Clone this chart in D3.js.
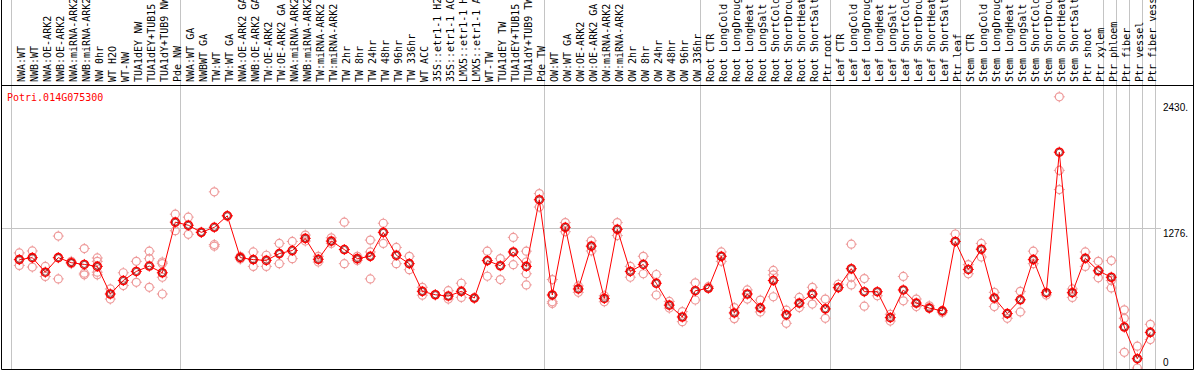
<!DOCTYPE html>
<html>
<head>
<meta charset="utf-8">
<script src="https://cdn.jsdelivr.net/npm/d3@7"></script>
<style>
  body { margin: 0; background: #fff; }
  svg { display: block; font-family: 'DejaVu Sans Mono', monospace; font-size: 10px; }
</style>
</head>
<body>
<svg id="chart" width="1194" height="370"></svg>
<script>
const geneName = 'Potri.014G075300'

const labels = [
  'NWA:WT', 'NWB:WT', 'NWA:OE-ARK2', 'NWB:OE-ARK2', 'NWA:miRNA-ARK2', 'NWB:miRNA-ARK2',
  'NW 0hr', 'WT H2O', 'WT-NW', 'TUA1dEY NW', 'TUA1dEY+TUB15', 'TUA1dY+TUB9 NW', 'Pde NW',
  'NWA:WT GA', 'NWBWT GA', 'TW:WT', 'TW:WT GA', 'NWA:OE-ARK2 GA', 'NWB:OE-ARK2 GA',
  'TW:OE-ARK2', 'TW:OE-ARK2 GA', 'NWA:miRNA-ARK2', 'NWB:miRNA-ARK2', 'TW:miRNA-ARK2',
  'TW:miRNA-ARK2', 'TW 2hr', 'TW 8hr', 'TW 24hr', 'TW 48hr', 'TW 96hr', 'TW 336hr',
  'WT ACC', '35S::etr1-1 H2', '35S::etr1-1 AC', 'LMX5::etr1-1 H', 'LMX5::etr1-1 A',
  'WT-TW', 'TUA1dEY TW', 'TUA1dEY+TUB15', 'TUA1dY+TUB9 TW', 'Pde TW',
  'OW:WT', 'OW:WT GA', 'OW:OE-ARK2', 'OW:OE-ARK2 GA', 'OW:miRNA-ARK2', 'OW:miRNA-ARK2',
  'OW 2hr', 'OW 8hr', 'OW 24hr', 'OW 48hr', 'OW 96hr', 'OW 336hr',
  'Root CTR', 'Root LongCold', 'Root LongDroug', 'Root LongHeat', 'Root LongSalt',
  'Root ShortCold', 'Root ShortDrou', 'Root ShortHeat', 'Root ShortSalt', 'Ptr root',
  'Leaf CTR', 'Leaf LongCold', 'Leaf LongDroug', 'Leaf LongHeat', 'Leaf LongSalt',
  'Leaf ShortCold', 'Leaf ShortDrou', 'Leaf ShortHeat', 'Leaf ShortSalt', 'Ptr leaf',
  'Stem CTR', 'Stem LongCold', 'Stem LongDroug', 'Stem LongHeat', 'Stem LongSalt',
  'Stem ShortCold', 'Stem ShortDrou', 'Stem ShortHeat', 'Stem ShortSalt', 'Ptr shoot',
  'Ptr xylem', 'Ptr phloem', 'Ptr fiber', 'Ptr vessel', 'Ptr fiber vess'
]

const means = [
  990, 1008, 875, 1008, 962, 946, 928, 676, 799, 882,
  931, 870, 1332, 1304, 1239, 1285, 1390, 1008, 990, 983,
  1045, 1073, 1184, 993, 1159, 1082, 999, 1020, 1239, 1030,
  953, 700, 669, 657, 700, 639, 981, 934, 1060, 928,
  1537, 667, 1285, 722, 1113, 635, 1267, 882, 946, 774,
  574, 466, 706, 728, 1020, 503, 676, 549, 799, 485,
  593, 676, 540, 734, 907, 697, 697, 460, 713, 593,
  547, 522, 1156, 900, 1085, 639, 497, 623, 990, 688,
  1971, 688, 1002, 888, 829, 374, 85, 325
]

const replicates = [
  [1051, 937], [1069, 922], [928, 836], [1205, 814], [974, 953],
  [1091, 866, 851], [1005, 974, 875, 851], [722, 630], [870, 753], [974, 783],
  [1067, 999, 737], [968, 953, 829, 676], [1405, 1254], [1378, 1221], [1239],
  [1609, 1128, 1113], [1390], [1020, 995], [1060, 928], [1030, 928],
  [1138, 953], [1156, 999], [1214, 1160], [1020, 968], [1189, 1138],
  [1332, 953], [1020, 983], [1168, 1060, 814], [1322, 1138], [1101, 953],
  [1020, 898], [737, 665], [669], [706, 630], [774, 645],
  [639], [1067, 838], [999, 808], [1193, 944], [1067, 968, 861, 759],
  [1593, 1470], [808, 605, 590], [1328, 1245], [691, 750], [1162, 1069],
  [605, 660], [1328, 1210], [928, 829], [1020, 861], [854, 667],
  [608, 547], [515, 423], [778, 621], [743], [1060, 974],
  [552, 451], [713, 630], [620, 512], [891, 851, 651], [528, 408],
  [645, 552], [737, 584], [630, 454], [765], [1131, 829, 759],
  [817, 565], [660], [491, 429], [836, 614], [630, 561],
  [568], [506], [1224], [944, 861], [1138, 1014],
  [691, 561], [454], [700, 512], [1067, 953], [667],
  [2477, 1805, 1630], [722, 645], [1060, 928], [974, 824], [981, 799, 731],
  [531, 454, 143], [199, 0], [399, 260]
]

// a grey rule is drawn after each of these column counts
const groupEnds = [0, 13, 41, 53, 63, 73, 84, 85, 86, 87, 88]

const yTicks = [0, 1276, 2430]
const yTickLabels = ['0', '1276.', '2430.']

window.addEventListener('DOMContentLoaded', init)

function init () {
  const W = 1194
  const headerBottom = 85
  const plotBottom = 369

  const svg = d3.select('#chart')

  const x = d3.scaleBand()
    .domain(d3.range(labels.length))
    .range([12.8, 12.8 + 13 * labels.length])
  const cx = i => x(i) + x.bandwidth() / 2

  const y = d3.scaleLinear()
    .domain([0, 1276])
    .range([368, 228.3])

  svg.append('defs').append('clipPath').attr('id', 'plot-clip')
    .append('rect')
    .attr('x', 1).attr('y', headerBottom + 1)
    .attr('width', W - 2).attr('height', plotBottom - headerBottom - 1)

  // grid
  svg.append('line')
    .attr('x1', 1).attr('x2', 1161)
    .attr('y1', Math.round(y(1276)) + 0.5).attr('y2', Math.round(y(1276)) + 0.5)
    .attr('stroke', '#c4c4c4')

  svg.append('g').selectAll('line')
    .data(groupEnds)
    .enter()
    .append('line')
    .attr('x1', d => Math.round(x.range()[0] + d * x.step() - 1.5) + 0.5)
    .attr('x2', d => Math.round(x.range()[0] + d * x.step() - 1.5) + 0.5)
    .attr('y1', 0)
    .attr('y2', plotBottom)
    .attr('stroke', '#c4c4c4')

  // header labels
  svg.append('g').selectAll('text')
    .data(labels)
    .enter()
    .append('text')
    .attr('transform', (d, i) => `translate(${cx(i) + 6}, 82) rotate(-90)`)
    .attr('fill', '#000')
    .text(d => d)

  // frame
  svg.append('path')
    .attr('d', `M1.5,0 V${plotBottom + 0.5} H${W - 0.5} V0`)
    .attr('fill', 'none')
    .attr('stroke', '#000')
  svg.append('line')
    .attr('x1', 1).attr('x2', W)
    .attr('y1', headerBottom + 0.5).attr('y2', headerBottom + 0.5)
    .attr('stroke', '#000')

  // title
  svg.append('text')
    .attr('x', 7)
    .attr('y', 101)
    .attr('fill', '#ff0000')
    .text(geneName)

  // right axis
  const axis = d3.axisRight(y)
    .tickValues(yTicks)
    .tickFormat((d, i) => yTickLabels[i])
    .tickSize(0)
    .tickPadding(0)
  const axisG = svg.append('g')
    .attr('transform', 'translate(1163, 0)')
    .call(axis)
  axisG.select('.domain').remove()
  axisG.selectAll('text')
    .attr('font-family', null)
    .attr('font-size', null)
    .attr('fill', '#000')
    .attr('dy', null)
    .attr('y', d => Math.min(y(d) + 8.5, 365) - y(d))

  const plot = svg.append('g').attr('clip-path', 'url(#plot-clip)')

  const reps = []
  replicates.forEach((vals, i) => vals.forEach(v => reps.push({ i, v })))

  drawMarkers(plot, reps, d => cx(d.i), d => y(d.v), '#ee9a9a', 1.2)

  const line = d3.line()
    .x((d, i) => cx(i))
    .y(d => y(d))
  plot.append('path')
    .datum(means)
    .attr('d', line)
    .attr('fill', 'none')
    .attr('stroke', '#ff0000')
    .attr('stroke-width', 1)

  const meanPts = means.map((v, i) => ({ i, v }))
  drawMarkers(plot, meanPts, d => cx(d.i), d => y(d.v), '#ff0000', 1.6)

  // dark inner ring on the mean markers
  plot.append('g').selectAll('circle')
    .data(meanPts)
    .enter()
    .append('circle')
    .attr('cx', d => cx(d.i))
    .attr('cy', d => y(d.v))
    .attr('r', 3)
    .attr('fill', 'none')
    .attr('stroke', '#600')
    .attr('stroke-width', 0.7)
}

function drawMarkers (parent, data, fx, fy, color, width) {
  const r = 4
  const g = parent.append('g')
  g.selectAll('circle')
    .data(data)
    .enter()
    .append('circle')
    .attr('cx', fx)
    .attr('cy', fy)
    .attr('r', r)
    .attr('fill', 'none')
    .attr('stroke', color)
    .attr('stroke-width', width)
  g.selectAll('path')
    .data(data)
    .enter()
    .append('path')
    .attr('d', d => {
      const px = fx(d)
      const py = fy(d)
      return `M${px},${py - r - 1.5}V${py - r}M${px},${py + r}V${py + r + 1.5}` +
        `M${px - r - 1.5},${py}H${px - r}M${px + r},${py}H${px + r + 1.5}`
    })
    .attr('stroke', color)
    .attr('stroke-width', 1)
}
</script>
</body>
</html>
